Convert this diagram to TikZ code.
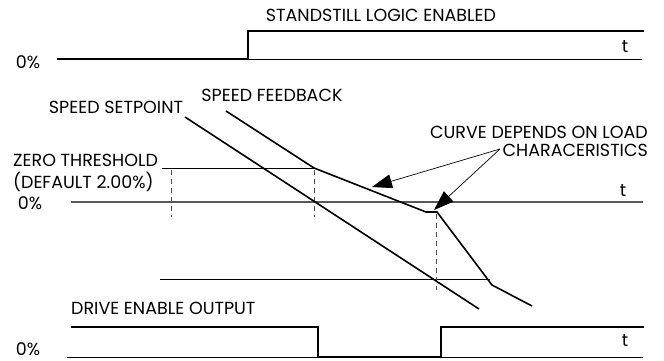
\documentclass[tikz,border=0pt]{standalone}
\usepackage{fontspec}
\setmainfont{Poppins}
\usepackage{tikz}
\usetikzlibrary{arrows.meta, positioning, calc}

\begin{document}
\begin{tikzpicture}[x=1pt, y=-1pt,
        >=Stealth,
        lbl/.style={font=\fontsize{17.5}{21}\selectfont, inner sep=0pt},
        sig/.style={line width=1.6pt, line join=miter},
        base/.style={line width=0.8pt},
        zero/.style={line width=1.2pt, black!65},
        guide/.style={dash pattern=on 5pt off 4pt, line width=0.8pt, black!70},
        callout/.style={-{Triangle[length=20pt, width=14pt]}, line width=0.7pt},
    ]
    \useasboundingbox (0,0) rectangle (664,361);

    % standstill logic
    \node[lbl] (standstill) at (381,15) {STANDSTILL LOGIC ENABLED};
    \node[lbl] (pctA) at (28,62) {0\%};
    \node[lbl] (tA) at (625,46) {t};
    \coordinate (a0) at (57,59);
    \coordinate (a1) at (248,59);
    \coordinate (a2) at (248,31);
    \coordinate (a3) at (644,31);
    \coordinate (aE) at (642,59);
    \draw[base] (a1) -- (aE);
    \draw[sig] (a0) -- (a1) -- (a2) -- (a3);

    % speed curves
    \node[lbl] (setpt) at (116,107) {SPEED SETPOINT};
    \node[lbl] (fback) at (272,95) {SPEED FEEDBACK};
    \node[lbl, anchor=west] (thresh) at (13,160) {ZERO THRESHOLD};
    \node[lbl, anchor=west] (dflt) at (13,182) {(DEFAULT 2.00\%)};
    \node[lbl] (pctB) at (30,203) {0\%};
    \node[lbl] (tB) at (623,190) {t};
    \node[lbl, anchor=east] (curve) at (648,132) {CURVE DEPENDS ON LOAD};
    \node[lbl, anchor=east] (charac) at (648,150) {CHARACERISTICS};

    \coordinate (z0) at (71,202);
    \coordinate (z1) at (643,202);
    \coordinate (h0) at (162,168);
    \coordinate (h1) at (314,168);
    \coordinate (l0) at (160,279);
    \coordinate (l1) at (490,279);
    \draw[zero] (z0) -- (z1);
    \draw[base] (h0) -- (h1);
    \draw[base] (l0) -- (l1);

    \draw[guide] (171,170) -- (171,217);
    \draw[guide] (314,170) -- (314,217);
    \draw[guide] (436,214) -- (436,290);

    \coordinate (sp0) at (185,117);
    \coordinate (sp1) at (479,309);
    \draw[sig] (sp0) -- (sp1);

    \coordinate (fb0) at (226,111);
    \coordinate (fb1) at (314,168);
    \coordinate (fb2) at (426,212);
    \coordinate (fb3) at (437,212);
    \coordinate (fb4) at (492,285);
    \coordinate (fb5) at (532,306);
    \draw[sig] (fb0) -- (fb1) -- (fb2) -- (fb3) -- (fb4) -- (fb5);

    \coordinate (src) at (500,149);
    \coordinate (tip1) at (372,187);
    \coordinate (tip2) at (434,210);
    \draw[callout] (src) -- (tip1);
    \draw[callout] (src) -- (tip2);

    % drive enable output
    \node[lbl, anchor=west] (drive) at (71,308) {DRIVE ENABLE OUTPUT};
    \node[lbl] (pctC) at (28,349) {0\%};
    \node[lbl] (tC) at (625,340) {t};
    \coordinate (d0) at (71,327);
    \coordinate (d1) at (318,327);
    \coordinate (d2) at (318,357);
    \coordinate (d3) at (441,357);
    \coordinate (d4) at (441,327);
    \coordinate (d5) at (644,327);
    \coordinate (dL) at (67,357);
    \coordinate (dE) at (643,357);
    \draw[base] (dL) -- (dE);
    \draw[sig] (d0) -- (d1) -- (d2) -- (d3) -- (d4) -- (d5);
\end{tikzpicture}
\end{document}
